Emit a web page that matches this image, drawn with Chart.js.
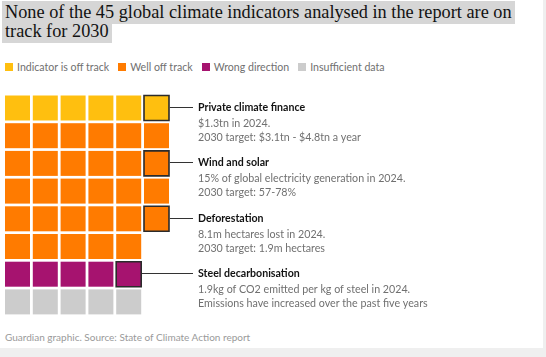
<!DOCTYPE html>
<html><head><meta charset="utf-8">
<script src="https://cdn.jsdelivr.net/npm/chart.js@4/dist/chart.umd.min.js"></script>
<style>
html,body{margin:0;padding:0;background:#efefef;}
#panel{position:absolute;left:0;top:0;width:543px;height:348px;background:#fff;overflow:hidden;}
#title{position:absolute;left:2px;top:3px;width:540px;font-family:"Liberation Serif",serif;font-size:18.3px;line-height:19px;color:#121212;}
#title span{background:#d6d6d6;padding:1px 3px 2px 3px;box-decoration-break:clone;-webkit-box-decoration-break:clone;}
#legend{position:absolute;left:5px;top:60px;display:flex;font-family:Lato,sans-serif;font-size:10.6px;color:#707070;line-height:14px;}
#legend .it{display:flex;align-items:center;margin-right:9px;}
#legend .sw{width:8px;height:8px;margin-right:4px;}
#chartwrap{position:absolute;left:0;top:85px;width:543px;height:240px;}
#source{position:absolute;left:5px;top:331px;font-family:Lato,sans-serif;font-size:10px;color:#9a9a9a;}
</style></head>
<body>
<div id="panel">
  <div id="title"><span>None of the 45 global climate indicators analysed in the report are on<br>track for 2030</span></div>
  <div id="legend"></div>
  <div id="chartwrap"><canvas id="c" width="543" height="240"></canvas></div>
  <div id="source">Guardian graphic. Source: State of Climate Action report</div>
</div>
<script>
// ---- data ----
const categories = ['Indicator is off track', 'Well off track', 'Wrong direction', 'Insufficient data'];
const counts = [6, 29, 5, 5];
const colors = ['#ffbf0f', '#ff7b00', '#a6136f', '#cccccc'];
const perRow = 6;
// annotated indicators: category index, position within category
const noteCategory = [0, 1, 1, 2];
const notePosition = [5, 11, 23, 4];
const noteTitles = ['Private climate finance', 'Wind and solar', 'Deforestation', 'Steel decarbonisation'];
const noteLine1 = ['$1.3tn in 2024.', '15% of global electricity generation in 2024.', '8.1m hectares lost in 2024.', '1.9kg of CO2 emitted per kg of steel in 2024.'];
const noteLine2 = ['2030 target: $3.1tn - $4.8tn a year', '2030 target: 57-78%', '2030 target: 1.9m hectares', 'Emissions have increased over the past five years'];

// legend
const lg = document.getElementById('legend');
categories.forEach((c, i) => {
  const d = document.createElement('div'); d.className = 'it';
  d.innerHTML = '<div class="sw" style="background:' + colors[i] + '"></div><span>' + c + '</span>';
  lg.appendChild(d);
});

// build waffle cells: each category starts on a new row
const points = [], bg = [], bc = [], bw = [];
let row = 0;
const noteCells = [];
counts.forEach((n, ci) => {
  for (let k = 0; k < n; k++) {
    const r = row + Math.floor(k / perRow), col = k % perRow;
    points.push({x: col, y: r});
    bg.push(colors[ci]);
    let hl = false;
    noteCategory.forEach((nc, ni) => { if (nc === ci && notePosition[ni] === k) { hl = true; noteCells[ni] = {x: col, y: r}; } });
    bc.push(hl ? '#2b2b2b' : 'rgba(0,0,0,0)');
    bw.push(hl ? 1.6 : 0);
  }
  row += Math.ceil(n / perRow);
});

const side = 25, pitchX = 27.8, pitchY = 27.7;
const W = 543, H = 240;
const x0 = 17.5, y0 = 23;
const xmin = -x0 / pitchX, xmax = xmin + W / pitchX;
const ymin = -y0 / pitchY, ymax = ymin + H / pitchY;

const notesPlugin = {
  id: 'notes',
  afterDatasetsDraw(chart) {
    const ctx = chart.ctx, xs = chart.scales.x, ys = chart.scales.y;
    const lineEnd = 193, textX = 198;
    ctx.save();
    noteCells.forEach((cell, i) => {
      const px = xs.getPixelForValue(cell.x) + side / 2 + 0.8;
      const py = Math.round(ys.getPixelForValue(cell.y)) - 0.5;
      ctx.strokeStyle = '#333'; ctx.lineWidth = 1;
      ctx.beginPath(); ctx.moveTo(px, py); ctx.lineTo(lineEnd, py); ctx.stroke();
      ctx.textBaseline = 'middle'; ctx.textAlign = 'left';
      ctx.fillStyle = '#121212'; ctx.font = 'bold 10.6px Lato, sans-serif';
      ctx.fillText(noteTitles[i], textX, py);
      ctx.fillStyle = '#707070'; ctx.font = '10.7px Lato, sans-serif';
      ctx.fillText(noteLine1[i], textX, py + 16.5);
      ctx.fillText(noteLine2[i], textX, py + 30);
    });
    ctx.restore();
  }
};

new Chart(document.getElementById('c'), {
  type: 'scatter',
  data: { datasets: [{
    data: points,
    pointStyle: 'rect',
    pointRadius: side / Math.SQRT2,
    pointHoverRadius: side / Math.SQRT2,
    pointBackgroundColor: bg,
    pointBorderColor: bc,
    pointBorderWidth: bw,
    pointHoverBorderWidth: bw,
    clip: false
  }]},
  options: {
    responsive: false,
    animation: false,
    events: [],
    layout: { padding: 0, autoPadding: false },
    plugins: { legend: { display: false }, tooltip: { enabled: false } },
    scales: {
      x: { type: 'linear', min: xmin, max: xmax, display: false },
      y: { type: 'linear', min: ymin, max: ymax, reverse: true, display: false }
    }
  },
  plugins: [notesPlugin]
});
</script>
</body></html>
